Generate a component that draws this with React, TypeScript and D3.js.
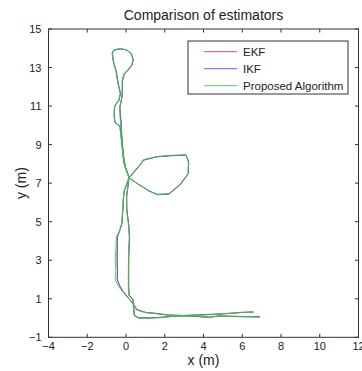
import { useEffect, useRef } from 'react';
import * as d3 from 'd3';

// estimated trajectories (x, y in metres)
const PROPOSED: [number, number][] = [
  [6.95, 0.05], [6.2, 0.06], [5.4, 0.08], [4.8, 0.12], [4.3, 0.05], [3.6, 0.1], [3.0, 0.1],
  [2.4, 0.08], [1.8, 0.02], [1.2, -0.01], [0.65, -0.01], [0.42, 0.12], [0.38, 0.6], [0.35, 0.95],
  [0.15, 1.15], [0.12, 1.6], [0.12, 2.5], [0.13, 3.3], [0.17, 4.2], [0.12, 4.9], [0.03, 5.6],
  [0.02, 6.3], [0.15, 7.3], [-0.05, 7.86], [-0.14, 8.4], [-0.2, 9.0], [-0.24, 9.6], [-0.28, 10.1],
  [-0.32, 10.6], [-0.33, 10.95], [-0.24, 11.35], [-0.2, 11.7], [-0.2, 12.3], [-0.12, 12.65],
  [0.1, 12.9], [0.3, 13.15], [0.36, 13.4], [0.25, 13.75], [0.0, 13.93], [-0.3, 13.98],
  [-0.62, 13.93], [-0.72, 13.75], [-0.66, 13.3], [-0.52, 12.8], [-0.42, 12.2], [-0.3, 11.65],
  [-0.38, 11.3], [-0.6, 11.0], [-0.62, 10.5], [-0.58, 10.15], [-0.32, 9.95], [-0.25, 9.3],
  [-0.18, 8.6], [-0.12, 8.05], [0.15, 7.3], [0.55, 7.0], [1.15, 6.62], [1.6, 6.42], [2.2, 6.45],
  [2.8, 6.95], [3.2, 7.5], [3.22, 8.1], [3.1, 8.47], [2.3, 8.44], [1.58, 8.38], [0.89, 8.21],
  [0.72, 7.95], [0.15, 7.3], [-0.1, 6.6], [-0.14, 6.2], [-0.18, 5.5], [-0.22, 4.9], [-0.35, 4.5],
  [-0.5, 4.2], [-0.52, 3.6], [-0.56, 3.0], [-0.52, 2.5], [-0.56, 2.0], [-0.42, 1.7], [-0.2, 1.4],
  [0.1, 1.05], [0.35, 0.75], [0.55, 0.42], [1.0, 0.28], [1.6, 0.22], [2.2, 0.14], [3.0, 0.14],
  [3.8, 0.15], [4.5, 0.18], [5.3, 0.25], [6.0, 0.28], [6.6, 0.3],
];

const EKF: [number, number][] = [
  [6.9, 0.07], [6.2, 0.08], [5.4, 0.1], [4.8, 0.1], [4.3, 0.03], [3.6, 0.08], [3.0, 0.12],
  [2.4, 0.1], [1.8, 0.04], [1.2, 0.01], [0.65, 0.02], [0.44, 0.14], [0.4, 0.62], [0.37, 0.97],
  [0.17, 1.18], [0.14, 1.6], [0.14, 2.5], [0.15, 3.3], [0.19, 4.2], [0.14, 4.9], [0.05, 5.6],
  [0.04, 6.3], [0.16, 7.28], [-0.03, 7.84], [-0.12, 8.4], [-0.18, 9.0], [-0.22, 9.6], [-0.26, 10.1],
  [-0.3, 10.6], [-0.31, 10.95], [-0.22, 11.35], [-0.18, 11.7], [-0.18, 12.3], [-0.1, 12.63],
  [0.12, 12.88], [0.32, 13.13], [0.38, 13.4], [0.27, 13.74], [0.02, 13.92], [-0.3, 13.96],
  [-0.6, 13.91], [-0.7, 13.74], [-0.64, 13.3], [-0.5, 12.8], [-0.4, 12.2], [-0.28, 11.65],
  [-0.36, 11.3], [-0.58, 11.0], [-0.6, 10.5], [-0.56, 10.15], [-0.3, 9.95], [-0.23, 9.3],
  [-0.16, 8.6], [-0.1, 8.05], [0.17, 7.28], [0.57, 6.98], [1.17, 6.6], [1.62, 6.4], [2.22, 6.43],
  [2.82, 6.93], [3.22, 7.5], [3.24, 8.1], [3.1, 8.45], [2.3, 8.42], [1.58, 8.36], [0.9, 8.19],
  [0.73, 7.93], [0.17, 7.28], [-0.09, 6.6], [-0.13, 6.2], [-0.17, 5.5], [-0.21, 4.9], [-0.34, 4.5],
  [-0.45, 4.2], [-0.45, 3.6], [-0.46, 3.0], [-0.44, 2.5], [-0.45, 2.0], [-0.34, 1.7], [-0.17, 1.4],
  [0.12, 1.05], [0.37, 0.75], [0.57, 0.44], [1.0, 0.3], [1.6, 0.24], [2.2, 0.16], [3.0, 0.13],
  [3.8, 0.17], [4.5, 0.2], [5.3, 0.23], [6.0, 0.3], [6.55, 0.32],
];

const IKF: [number, number][] = [
  [6.9, 0.06], [6.2, 0.07], [5.4, 0.09], [4.8, 0.11], [4.3, 0.04], [3.6, 0.09], [3.0, 0.11],
  [2.4, 0.09], [1.8, 0.03], [1.2, 0.0], [0.65, 0.01], [0.43, 0.13], [0.39, 0.61], [0.36, 0.96],
  [0.16, 1.17], [0.13, 1.6], [0.13, 2.5], [0.14, 3.3], [0.18, 4.2], [0.13, 4.9], [0.04, 5.6],
  [0.03, 6.3], [0.16, 7.29], [-0.04, 7.85], [-0.13, 8.4], [-0.19, 9.0], [-0.23, 9.6], [-0.24, 10.1],
  [-0.29, 10.6], [-0.32, 10.95], [-0.23, 11.35], [-0.19, 11.7], [-0.19, 12.3], [-0.11, 12.64],
  [0.11, 12.89], [0.31, 13.14], [0.37, 13.4], [0.26, 13.75], [0.01, 13.92], [-0.3, 13.97],
  [-0.61, 13.92], [-0.71, 13.75], [-0.65, 13.3], [-0.51, 12.8], [-0.41, 12.2], [-0.29, 11.65],
  [-0.37, 11.3], [-0.59, 11.0], [-0.61, 10.5], [-0.57, 10.15], [-0.31, 9.95], [-0.24, 9.3],
  [-0.17, 8.6], [-0.11, 8.05], [0.16, 7.29], [0.56, 6.99], [1.16, 6.61], [1.61, 6.41], [2.21, 6.44],
  [2.81, 6.94], [3.21, 7.5], [3.23, 8.1], [3.1, 8.46], [2.3, 8.43], [1.58, 8.37], [0.9, 8.2],
  [0.72, 7.94], [0.16, 7.29], [-0.09, 6.6], [-0.13, 6.2], [-0.17, 5.5], [-0.21, 4.9], [-0.34, 4.5],
  [-0.45, 4.2], [-0.45, 3.6], [-0.46, 3.0], [-0.44, 2.5], [-0.45, 2.0], [-0.34, 1.7], [-0.17, 1.4],
  [0.11, 1.05], [0.36, 0.75], [0.56, 0.43], [1.0, 0.29], [1.6, 0.23], [2.2, 0.15], [3.0, 0.12],
  [3.8, 0.16], [4.5, 0.19], [5.3, 0.24], [6.0, 0.29], [6.58, 0.31],
];

const SERIES = [
  { name: 'EKF', data: EKF, color: '#ff3030' },
  { name: 'IKF', data: IKF, color: '#5050f0' },
  { name: 'Proposed Algorithm', data: PROPOSED, color: '#30d040' },
];

const X_TICKS = [-4, -2, 0, 2, 4, 6, 8, 10, 12];
const Y_TICKS = [-1, 1, 3, 5, 7, 9, 11, 13, 15];

export default function App() {
  const svgRef = useRef<SVGSVGElement>(null);

  useEffect(() => {
    if (!svgRef.current) return;
    const svg = d3.select(svgRef.current);
    svg.selectAll('*').remove();

    const left = 48.5, right = 358.5, top = 29, bottom = 337.3;
    const font = 'Liberation Sans, Arial, sans-serif';
    const x = d3.scaleLinear().domain([-4, 12]).range([left, right]);
    const y = d3.scaleLinear().domain([-1, 15]).range([bottom, top]);

    svg.append('rect').attr('width', 362).attr('height', 371).attr('fill', '#fff');

    // trajectories
    const line = d3.line<[number, number]>().x(d => x(d[0])).y(d => y(d[1]));
    SERIES.forEach(s => {
      svg.append('path')
        .attr('d', line(s.data))
        .attr('fill', 'none')
        .attr('stroke', s.color)
        .attr('stroke-width', 0.9)
        .attr('stroke-linejoin', 'round');
    });

    // box + ticks
    const ax = svg.append('g').attr('stroke', '#333').attr('stroke-width', 1);
    ax.append('rect')
      .attr('x', left).attr('y', top)
      .attr('width', right - left).attr('height', bottom - top)
      .attr('fill', 'none');
    const tl = 3.5;
    X_TICKS.forEach(t => {
      ax.append('line').attr('x1', x(t)).attr('x2', x(t)).attr('y1', bottom).attr('y2', bottom - tl);
      ax.append('line').attr('x1', x(t)).attr('x2', x(t)).attr('y1', top).attr('y2', top + tl);
    });
    Y_TICKS.forEach(t => {
      ax.append('line').attr('x1', left).attr('x2', left + tl).attr('y1', y(t)).attr('y2', y(t));
      ax.append('line').attr('x1', right).attr('x2', right - tl).attr('y1', y(t)).attr('y2', y(t));
    });

    const lbl = svg.append('g').attr('font-family', font).attr('fill', '#222');
    X_TICKS.forEach(t => {
      lbl.append('text')
        .attr('x', x(t)).attr('y', bottom + 13)
        .attr('text-anchor', 'middle')
        .attr('font-size', 11)
        .text(t < 0 ? '\u2212' + Math.abs(t) : String(t));
    });
    Y_TICKS.forEach(t => {
      lbl.append('text')
        .attr('x', left - 7).attr('y', y(t) + 4)
        .attr('text-anchor', 'end')
        .attr('font-size', 11)
        .text(t < 0 ? '\u2212' + Math.abs(t) : String(t));
    });

    lbl.append('text')
      .attr('x', (left + right) / 2).attr('y', 20)
      .attr('text-anchor', 'middle').attr('font-size', 14)
      .text('Comparison of estimators');
    lbl.append('text')
      .attr('x', (left + right) / 2).attr('y', 365)
      .attr('text-anchor', 'middle').attr('font-size', 14)
      .text('x (m)');
    lbl.append('text')
      .attr('transform', `translate(26,${(top + bottom) / 2}) rotate(-90)`)
      .attr('text-anchor', 'middle').attr('font-size', 14)
      .text('y (m)');

    // legend
    const lg = svg.append('g').attr('font-family', font);
    lg.append('rect')
      .attr('x', 188).attr('y', 41).attr('width', 160).attr('height', 53)
      .attr('fill', '#fff').attr('stroke', '#333').attr('stroke-width', 1);
    SERIES.forEach((s, i) => {
      const ly = 51.7 + i * 17;
      lg.append('line')
        .attr('x1', 204).attr('x2', 237).attr('y1', ly).attr('y2', ly)
        .attr('stroke', s.color).attr('stroke-width', 0.9);
      lg.append('text')
        .attr('x', 243).attr('y', ly + 4)
        .attr('font-size', 11.5).attr('fill', '#222')
        .text(s.name);
    });
  }, []);

  return (
    <svg
      ref={svgRef}
      width={362}
      height={371}
      style={{ position: 'absolute', left: 0, top: 0, display: 'block' }}
    />
  );
}
